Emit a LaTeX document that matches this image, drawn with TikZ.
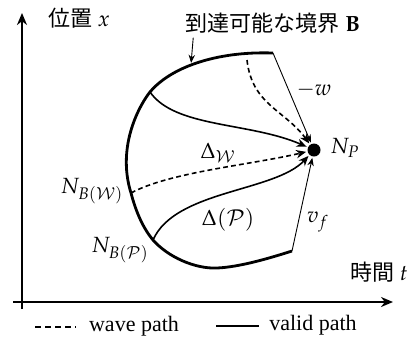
\documentclass[tikz,border=0pt]{standalone}
\usepackage{mathpazo}
\usepackage[no-math]{fontspec}
\setmainfont{Liberation Serif}
\newfontfamily\jp{Noto Sans CJK JP}
\usetikzlibrary{arrows.meta}
\begin{document}
\begin{tikzpicture}[x=0.5pt,y=-0.5pt,
  font=\fontsize{11}{13}\selectfont,
  axis/.style={line width=1.4pt,-{Stealth[length=6pt,width=5pt]}},
  bound/.style={line width=1.4pt},
  vpath/.style={line width=0.8pt,-{Stealth[length=5pt,width=4.2pt]},shorten >=0.6pt},
  wpath/.style={vpath,dash pattern=on 2.4pt off 1.6pt},
  thinarr/.style={line width=0.45pt,-{Stealth[length=4pt,width=3.2pt]},shorten >=0.6pt},
  lbl/.style={inner sep=1pt},
  legline/.style={line width=0.7pt}]
\useasboundingbox (0,0) rectangle (412,345);
% axes
\coordinate (Ybot) at (22,309);
\coordinate (Ytop) at (22,13);
\coordinate (Xbeg) at (13,302);
\coordinate (Xend) at (393,302);
\draw[axis] (Ybot) -- (Ytop);
\draw[axis] (Xbeg) -- (Xend);
\node[lbl] (ylab) at (79,18) {{\jp 位置} $x$};
\node[lbl] (xlab) at (379,272) {{\jp 時間} $t$};
% boundary
\coordinate (Btop) at (273,53);
\coordinate (JA) at (150,92);
\coordinate (JW) at (131,193);
\coordinate (JP) at (153,240);
\coordinate (Bbot) at (217,268);
\coordinate (Bend) at (292,251);
\coordinate (bpt) at (191,64);
\draw[bound] (Btop) .. controls (215,51) and (170,68) .. (JA)
  .. controls (141,103) and (116,145) .. (JW)
  .. controls (136,212) and (143,228) .. (JP)
  .. controls (168,257) and (195,269) .. (Bbot)
  .. controls (240,267) and (270,258) .. (Bend);
% end point
\node[circle,fill,minimum size=6.5pt,inner sep=0pt] (NP) at (314,150) {};
\node[lbl] (NPl) at (345,148) {$N_P$};
% paths
\coordinate (wS) at (247,60);
\draw[vpath] (JA) .. controls (175,128) and (250,122) .. (NP);
\draw[wpath] (wS) .. controls (252,105) and (285,110) .. (NP);
\draw[wpath] (JW) .. controls (170,172) and (250,165) .. (NP);
\draw[vpath] (JP) .. controls (175,190) and (275,192) .. (NP);
\draw[thinarr] (Btop) -- (NP);
\draw[thinarr] (Bend) -- (NP);
% labels
\node[lbl] (wl) at (314,90) {$-w$};
\node[lbl] (vfl) at (318,222) {$v_f$};
\node[lbl] (DW) at (218,153) {$\Delta_{\mathcal{W}}$};
\node[lbl] (DP) at (228,220) {$\Delta(\mathcal{P})$};
\node[lbl] (NBW) at (92,191) {$N_{B(\mathcal{W})}$};
\node[lbl] (NBP) at (120,250) {$N_{B(\mathcal{P})}$};
\node[lbl] (lblB) at (273,23) {{\jp 到達可能な境界} $\mathbf{B}$};
\draw[thinarr] ([xshift=5pt,yshift=-1pt]lblB.south west) -- (bpt);
% legend
\coordinate (lw1) at (35,327);
\coordinate (lw2) at (76,327);
\coordinate (lv1) at (216,326);
\coordinate (lv2) at (259,326);
\draw[legline,dash pattern=on 3pt off 2pt] (lw1) -- (lw2);
\draw[legline] (lv1) -- (lv2);
\node[lbl] (wtext) at (134,326) {wave path};
\node[lbl] (vtext) at (313,325) {valid path};
\end{tikzpicture}
\end{document}
